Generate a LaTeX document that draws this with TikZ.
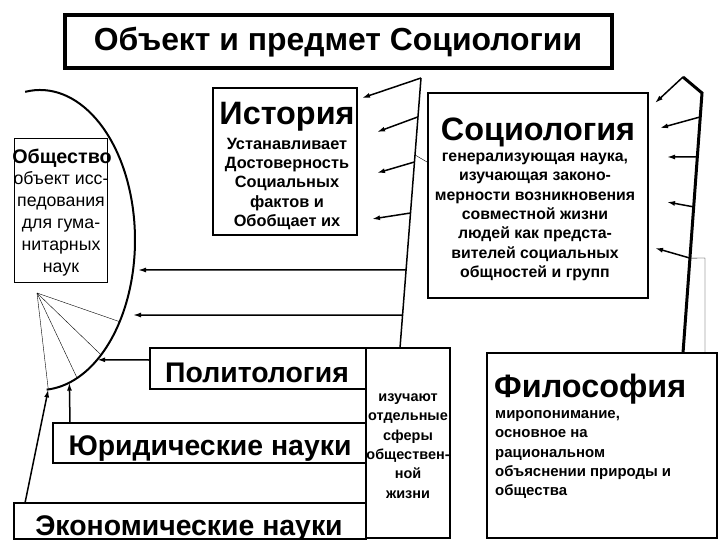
\documentclass[tikz,border=0pt]{standalone}
\usepackage{fontspec}
\setmainfont{Liberation Sans}
\usetikzlibrary{calc}
\usetikzlibrary{arrows.meta}
\tikzset{>={Latex[length=8bp,width=5bp]}}
\tikzset{box/.style = {draw, line width=2bp, inner sep=0pt}}
\tikzset{thinbox/.style = {draw, line width=1bp, inner sep=0pt}}
\tikzset{head/.style = {font=\fontsize{32.5}{34}\selectfont\bfseries, inner sep=0pt, anchor=base}}
\tikzset{sci/.style = {font=\fontsize{28.5}{30}\selectfont\bfseries, inner sep=0pt, anchor=base}}
\tikzset{txt/.style = {align=center, inner sep=0pt}}
\tikzset{link/.style = {->, line width=1.5bp}}

\begin{document}
\begin{tikzpicture}[x=1bp, y=-1bp]
                \useasboundingbox (0,0) rectangle (720,540);

                \node[draw, line width=4bp, minimum width=547bp, minimum height=53bp] (title) at (338.5,41.5) {};
                \node[font=\fontsize{32}{34}\selectfont\bfseries, inner sep=0pt] (titletext) at (338,42) {Объект и предмет Социологии};

                \node[box, minimum width=144bp, minimum height=147bp] (hist) at (285,161.5) {};
                \node[head] (histname) at (287,125) {История};
                \node[txt, font=\fontsize{16.4}{19.3}\selectfont\bfseries] (histtext) at (287,184) {Устанавливает\\Достоверность\\Социальных\\фактов и\\Обобщает их};

                \node[box, minimum width=220bp, minimum height=205bp] (soc) at (538,195.5) {};
                \node[head] (socname) at (538,141) {Социология};
                \node[txt, font=\fontsize{15.9}{19.4}\selectfont\bfseries] (soctext) at (535,217) {генерализующая наука,\\изучающая законо-\\мерности возникновения\\совместной жизни\\людей как предста-\\вителей социальных\\общностей и групп};

                \node[thinbox, minimum width=92bp, minimum height=143bp] (soc0) at (61,210.5) {};
                \node[font=\fontsize{19.8}{21}\selectfont\bfseries, inner sep=0pt, anchor=base] (socname0) at (62,164) {Общество};
                \node[txt, font=\fontsize{17.8}{22}\selectfont] (soctext0) at (61,224) {объект исс-\\педования\\для гума-\\нитарных\\наук};

                \node[box, minimum width=216bp, minimum height=41bp] (pol) at (258,368.5) {};
                \node[sci] (polname) at (257,382) {Политология};
                \node[box, minimum width=313bp, minimum height=40bp] (jur) at (209.5,443) {};
                \node[sci] (jurname) at (210,455) {Юридические науки};
                \node[box, minimum width=352bp, minimum height=36bp] (eco) at (190,521) {};
                \node[sci] (econame) at (189,535) {Экономические науки};

                \node[box, minimum width=84bp, minimum height=190bp] (izu) at (408,443) {};
                \node[txt, font=\fontsize{14.5}{19.4}\selectfont\bfseries] (izutext) at (408,446) {изучают\\отдельные\\сферы\\обществен-\\ной\\жизни};

                \node[box, minimum width=230bp, minimum height=185bp] (phil) at (602,445.5) {};
                \node[head, anchor=base west] (philname) at (494,397) {Философия};
                \node[align=left, anchor=north west, inner sep=0pt, font=\fontsize{15}{19.5}\selectfont\bfseries] (philtext) at (495,410) {миропонимание,\\основное на\\рациональном\\объяснении природы и\\общества};

                % left line
                \coordinate (ltop) at (421,78);
                \coordinate (lbot) at (400,348);
                \draw[line width=1.5bp] (ltop) -- (lbot);
                \coordinate (h1) at (362,98);
                \coordinate (h2) at (377,132);
                \coordinate (h3) at (377,173);
                \coordinate (h4) at (372,219);
                \draw[link] (ltop) -- (h1);
                \draw[link] ($(ltop)!0.144!(lbot)$) -- (h2);
                \draw[link] ($(ltop)!0.311!(lbot)$) -- (h3);
                \draw[link] ($(ltop)!0.5!(lbot)$) -- (h4);
                \draw[thin] ($(ltop)!0.285!(lbot)$) -- (soc.west |- 0,162);

                % right line
                \coordinate (rtop) at (683,77);
                \coordinate (rmid) at (702,93);
                \coordinate (rbot) at (683,353);
                \draw[line width=3bp, line join=miter] (rtop) -- (rmid) -- (rbot);
                \draw[link] (rtop) -- (655,103);
                \draw[link] ($(rmid)!0.092!(rbot)$) -- (660,128);
                \draw[link] ($(rmid)!0.246!(rbot)$) -- (667,157);
                \draw[link] ($(rmid)!0.438!(rbot)$) -- (667,202);
                \draw[link] ($(rmid)!0.635!(rbot)$) -- (655,248);
                \draw[thin] ($(rmid)!0.635!(rbot)$) -- (705,258) -- (705,353);

                % arc round the society
                \coordinate (ctr) at (40,240);
                \draw[line width=2bp] ($(ctr)+(-99:95 and 150)$) arc[start angle=-99, end angle=86, x radius=95, y radius=150];
                \coordinate (fan) at (37,293);
                \foreach \a in {33,50,67,85}
                    \draw[thin] (fan) -- ($(ctr)+(\a:95 and 150)$);

                \draw[link] ($(ltop)!0.711!(lbot)$) -- (138,270);
                \draw[link] ($(ltop)!0.878!(lbot)$) -- (133,315);
                \draw[link] (pol.west |- 0,360) -- ($(ctr)+(53:95 and 150)$);
                \draw[link] (70,423) -- ($(ctr)+(72:95 and 150)$);
                \draw[link] (25,503) -- ($(ctr)+(85:95 and 150)$);
\end{tikzpicture}
\end{document}
